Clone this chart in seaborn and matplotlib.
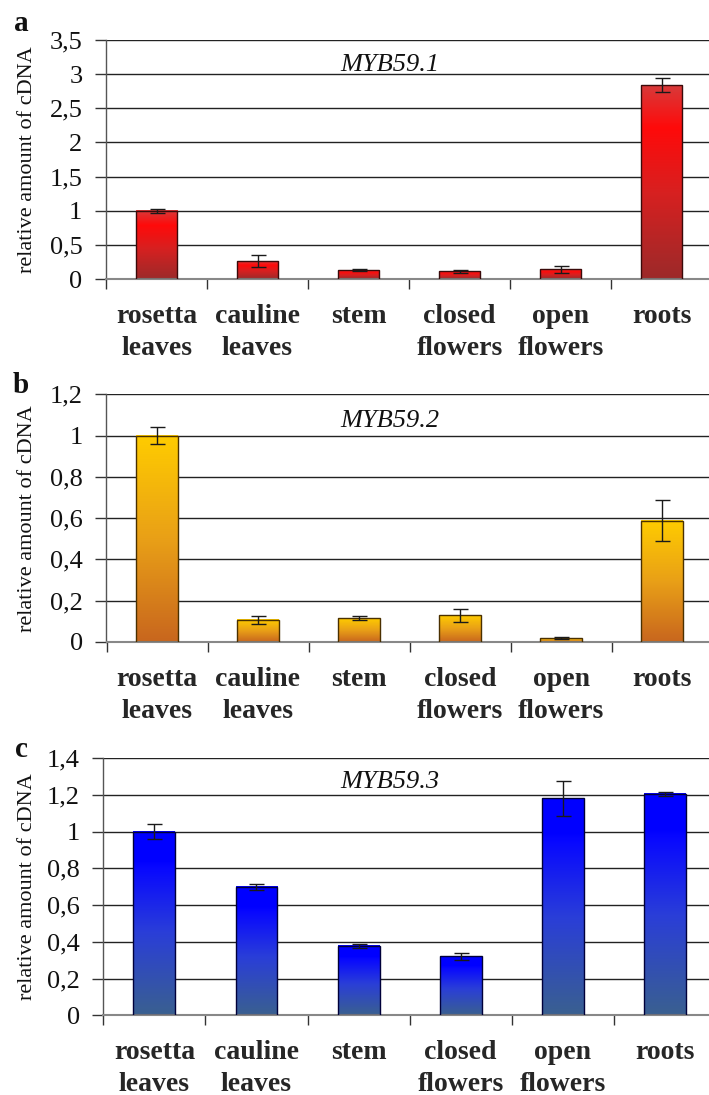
import numpy as np
import matplotlib
matplotlib.use("Agg")
import matplotlib.pyplot as plt
from matplotlib.colors import LinearSegmentedColormap
from matplotlib.ticker import FixedLocator, FuncFormatter
import seaborn as sns

# ---- data ----
categories = ["rosetta\nleaves", "cauline\nleaves", "stem", "closed\nflowers", "open\nflowers", "roots"]
titles = ["MYB59.1", "MYB59.2", "MYB59.3"]
panel_letters = ["a", "b", "c"]
myb1_values = [1.00, 0.26, 0.13, 0.11, 0.14, 2.84]
myb1_errors = [0.03, 0.09, 0.02, 0.02, 0.05, 0.10]
myb2_values = [1.00, 0.107, 0.115, 0.129, 0.018, 0.588]
myb2_errors = [0.04, 0.02, 0.01, 0.03, 0.005, 0.10]
myb3_values = [1.00, 0.699, 0.376, 0.321, 1.182, 1.204]
myb3_errors = [0.04, 0.015, 0.01, 0.02, 0.097, 0.01]
y_max = [3.5, 1.2, 1.4]
y_step = [0.5, 0.2, 0.2]
ylabel = "relative amount of cDNA"

sns.set_theme(style="white")
plt.rcParams["font.family"] = ["Liberation Serif", "DejaVu Serif"]

W, H = 709, 1095
fig = plt.figure(figsize=(W / 100, H / 100), dpi=100)

# axes boxes in pixels: left, right, top, bottom
boxes = [(106, 712, 40, 279), (106.5, 712.5, 394.3, 642), (103.3, 716, 758.3, 1015.3)]

cmaps = [
    LinearSegmentedColormap.from_list("r", [(0, "#9c2a2a"), (0.45, "#d82020"), (0.78, "#ff0a0a"), (1.0, "#d83a3a")]),
    LinearSegmentedColormap.from_list("o", [(0, "#c8661e"), (0.5, "#e9a017"), (1.0, "#ffcc00")]),
    LinearSegmentedColormap.from_list("b", [(0, "#3a6090"), (0.45, "#2a3ed8"), (0.80, "#0808ff"), (0.84, "#0000ff"), (1.0, "#0000ff")]),
]
edgecols = ["#3a0a0a", "#4a3000", "#00003a"]
values = [myb1_values, myb2_values, myb3_values]
errors = [myb1_errors, myb2_errors, myb3_errors]
title_base = [71, 427, 788]
letter_base = [31, 393, 757]

grad = np.linspace(0, 1, 256).reshape(-1, 1)

for i in range(3):
    l, r, t, b = boxes[i]
    ax = fig.add_axes([l / W, 1 - b / H, (r - l) / W, (b - t) / H])
    sns.barplot(x=categories, y=values[i], ax=ax, width=0.41, color="#ffffff",
                edgecolor=edgecols[i], linewidth=1.0, zorder=3)
    ax.set_xlim(-0.5, 5.5)
    ax.set_ylim(0, y_max[i])
    for p in ax.patches:
        x0, y0 = p.get_x(), p.get_y()
        w, h = p.get_width(), p.get_height()
        ax.imshow(grad, cmap=cmaps[i], origin="lower", aspect="auto",
                  extent=[x0, x0 + w, y0, y0 + h], zorder=2.5)
        p.set_facecolor("none")
        p.set_zorder(3)
    ax.set_xlim(-0.5, 5.5)
    ax.set_ylim(0, y_max[i])
    ax.errorbar(range(len(categories)), values[i], yerr=errors[i], fmt="none",
                ecolor="#1a1a1a", elinewidth=1.0, capsize=5.4, capthick=1.0, zorder=4)

    yt = np.round(np.arange(0, y_max[i] + 1e-9, y_step[i]), 3)
    ax.yaxis.set_major_locator(FixedLocator(yt))
    ax.yaxis.set_major_formatter(FuncFormatter(lambda v, pos: f"{v:g}".replace(".", ",")))
    ax.yaxis.grid(True, color="#222222", linewidth=1.0, zorder=1)
    ax.xaxis.grid(False)
    ax.set_axisbelow(True)

    ax.set_xticks(range(len(categories)))
    ax.set_xticklabels(categories, fontweight="bold", fontsize=20, linespacing=1.35)
    ax.xaxis.set_minor_locator(FixedLocator(np.arange(-0.5, 6.0, 1.0)))
    ax.tick_params(axis="x", which="major", length=0, pad=18)
    ax.tick_params(axis="x", which="minor", length=7, width=1, color="#333333", direction="out", bottom=True)
    ax.tick_params(axis="y", which="major", length=8, width=1, color="#333333", direction="out",
                   left=True, pad=9, labelsize=19)
    for lab in ax.get_yticklabels():
        lab.set_color("#111111")

    for s in ["top", "right"]:
        ax.spines[s].set_visible(False)
    ax.spines["left"].set_color("#555555")
    ax.spines["left"].set_linewidth(1.0)
    ax.spines["bottom"].set_color("#888888")
    ax.spines["bottom"].set_linewidth(1.5)

    ax.set_xlabel("")
    ax.set_ylabel(ylabel, fontsize=16, color="#111111")
    ax.yaxis.set_label_coords((37 - l) / (r - l), 0.5)

    fig.text(390 / W, 1 - title_base[i] / H, titles[i], fontsize=19, style="italic",
             ha="center", va="baseline", color="#111111")
    fig.text(21 / W, 1 - letter_base[i] / H, panel_letters[i], fontsize=21, fontweight="bold",
             ha="center", va="baseline", color="#111111")

fig.savefig("out.png", dpi=100)
